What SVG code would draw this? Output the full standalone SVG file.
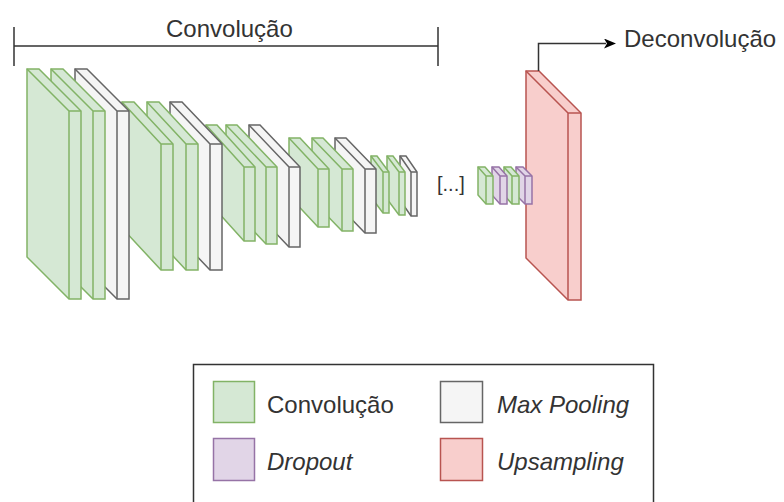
<svg xmlns="http://www.w3.org/2000/svg" width="784" height="502" viewBox="0 0 784 502">
<defs>
<style>
.s{stroke-width:1.5;stroke-linejoin:miter}
.conv{fill:#d5e8d4;stroke:#82b366}
.pool{fill:#f5f5f5;stroke:#666666}
.drop{fill:#e1d5e7;stroke:#9673a6}
.up{fill:#f8cecc;stroke:#b85450}
.in{fill:none}
.t{font-family:"Liberation Sans",Arial,sans-serif;font-size:24px;fill:#333333}
.i{font-style:italic}
.ln{fill:none;stroke:#333333;stroke-width:1.5}
</style>
<marker id="arr" viewBox="0 0 12 10" refX="2" refY="5" markerWidth="12" markerHeight="10" markerUnits="userSpaceOnUse" orient="auto">
<path d="M0,0 L12,5 L0,10 L3,5 Z" fill="#000000"/>
</marker>
</defs>
<rect width="784" height="502" fill="#ffffff"/>

<g id="upsampling">
<path class="s up" d="M526,71 H539 L581,113 V300 H568 L526,258 Z"/>
<path class="s up in" d="M526,71 L568,113 H581 M568,113 V300"/>
</g>
<g id="g6-dropout2">
<path class="s drop" d="M516,167 H523 L532,176 V204 H525 L516,195 Z"/>
<path class="s drop in" d="M516,167 L525,176 H532 M525,176 V204"/>
</g>
<g id="g6-conv2">
<path class="s conv" d="M504,167 H511 L519,176 V204 H512 L504,195 Z"/>
<path class="s conv in" d="M504,167 L512,176 H519 M512,176 V204"/>
</g>
<g id="g6-dropout1">
<path class="s drop" d="M492,167 H499 L507,176 V204 H500 L492,195 Z"/>
<path class="s drop in" d="M492,167 L500,176 H507 M500,176 V204"/>
</g>
<g id="g6-conv1">
<path class="s conv" d="M478,167 H485 L493,176 V204 H486 L478,195 Z"/>
<path class="s conv in" d="M478,167 L486,176 H493 M486,176 V204"/>
</g>

<g id="g5-pool">
<path class="s pool" d="M400,156 H406 L417,172 V216 H411 L400,200 Z"/>
<path class="s pool in" d="M400,156 L411,172 H417 M411,172 V216"/>
</g>
<g id="g5-conv2">
<path class="s conv" d="M387,156 H393 L405,172 V215 H399 L387,199 Z"/>
<path class="s conv in" d="M387,156 L399,172 H405 M399,172 V215"/>
</g>
<g id="g5-conv1">
<path class="s conv" d="M371,156 H377 L389,172 V213 H383 L371,197 Z"/>
<path class="s conv in" d="M371,156 L383,172 H389 M383,172 V213"/>
</g>

<g id="g4-pool">
<path class="s pool" d="M335,138 H346 L376,169 V233 H365 L335,202 Z"/>
<path class="s pool in" d="M335,138 L365,169 H376 M365,169 V233"/>
</g>
<g id="g4-conv2">
<path class="s conv" d="M312,138 H323 L353,169 V231 H342 L312,200 Z"/>
<path class="s conv in" d="M312,138 L342,169 H353 M342,169 V231"/>
</g>
<g id="g4-conv1">
<path class="s conv" d="M289,138 H300 L329,169 V227 H318 L289,196 Z"/>
<path class="s conv in" d="M289,138 L318,169 H329 M318,169 V227"/>
</g>

<g id="g3-pool">
<path class="s pool" d="M249,125 H260 L300,167 V247 H289 L249,205 Z"/>
<path class="s pool in" d="M249,125 L289,167 H300 M289,167 V247"/>
</g>
<g id="g3-conv2">
<path class="s conv" d="M226,125 H237 L277,167 V244 H266 L226,202 Z"/>
<path class="s conv in" d="M226,125 L266,167 H277 M266,167 V244"/>
</g>
<g id="g3-conv1">
<path class="s conv" d="M206,125 H217 L255,167 V241 H244 L206,199 Z"/>
<path class="s conv in" d="M206,125 L244,167 H255 M244,167 V241"/>
</g>

<g id="g2-pool">
<path class="s pool" d="M170,102 H182 L222,144 V270 H210 L170,228 Z"/>
<path class="s pool in" d="M170,102 L210,144 H222 M210,144 V270"/>
</g>
<g id="g2-conv2">
<path class="s conv" d="M147,102 H159 L198,144 V270 H186 L147,228 Z"/>
<path class="s conv in" d="M147,102 L186,144 H198 M186,144 V270"/>
</g>
<g id="g2-conv1">
<path class="s conv" d="M122,102 H134 L173,144 V270 H161 L122,228 Z"/>
<path class="s conv in" d="M122,102 L161,144 H173 M161,144 V270"/>
</g>

<g id="g1-pool">
<path class="s pool" d="M75,69 H87 L129,111 V299 H117 L75,257 Z"/>
<path class="s pool in" d="M75,69 L117,111 H129 M117,111 V299"/>
</g>
<g id="g1-conv2">
<path class="s conv" d="M51,69 H63 L105,111 V299 H93 L51,257 Z"/>
<path class="s conv in" d="M51,69 L93,111 H105 M93,111 V299"/>
</g>
<g id="g1-conv1">
<path class="s conv" d="M27,69 H39 L81,111 V299 H69 L27,257 Z"/>
<path class="s conv in" d="M27,69 L69,111 H81 M69,111 V299"/>
</g>

<g id="ellipsis">
<text class="t" x="437" y="191" style="font-size:20px">[...]</text>
</g>

<g id="bracket">
<path class="ln" d="M14,27 V66 M14,46 H438 M438,27 V66"/>
<text class="t" x="166" y="37">Convolução</text>
</g>

<g id="connectors">
<path class="ln" d="M538.5,71 V43.5 H606" marker-end="url(#arr)"/>
</g>
<g id="deconv-label">
<text class="t" x="624" y="47">Deconvolução</text>
</g>

<g id="legend">
<rect x="193.5" y="364.5" width="460" height="145" fill="#ffffff" stroke="#333333" stroke-width="1.5"/>
<rect class="s conv" x="213.5" y="381.5" width="41" height="41"/>
<text class="t" x="267" y="413">Convolução</text>
<rect class="s pool" x="440.5" y="381.5" width="42" height="41"/>
<text class="t i" x="497" y="413">Max Pooling</text>
<rect class="s drop" x="213.5" y="438.5" width="41" height="42"/>
<text class="t i" x="267" y="470">Dropout</text>
<rect class="s up" x="440.5" y="438.5" width="42" height="42"/>
<text class="t i" x="497" y="470">Upsampling</text>
</g>
</svg>
